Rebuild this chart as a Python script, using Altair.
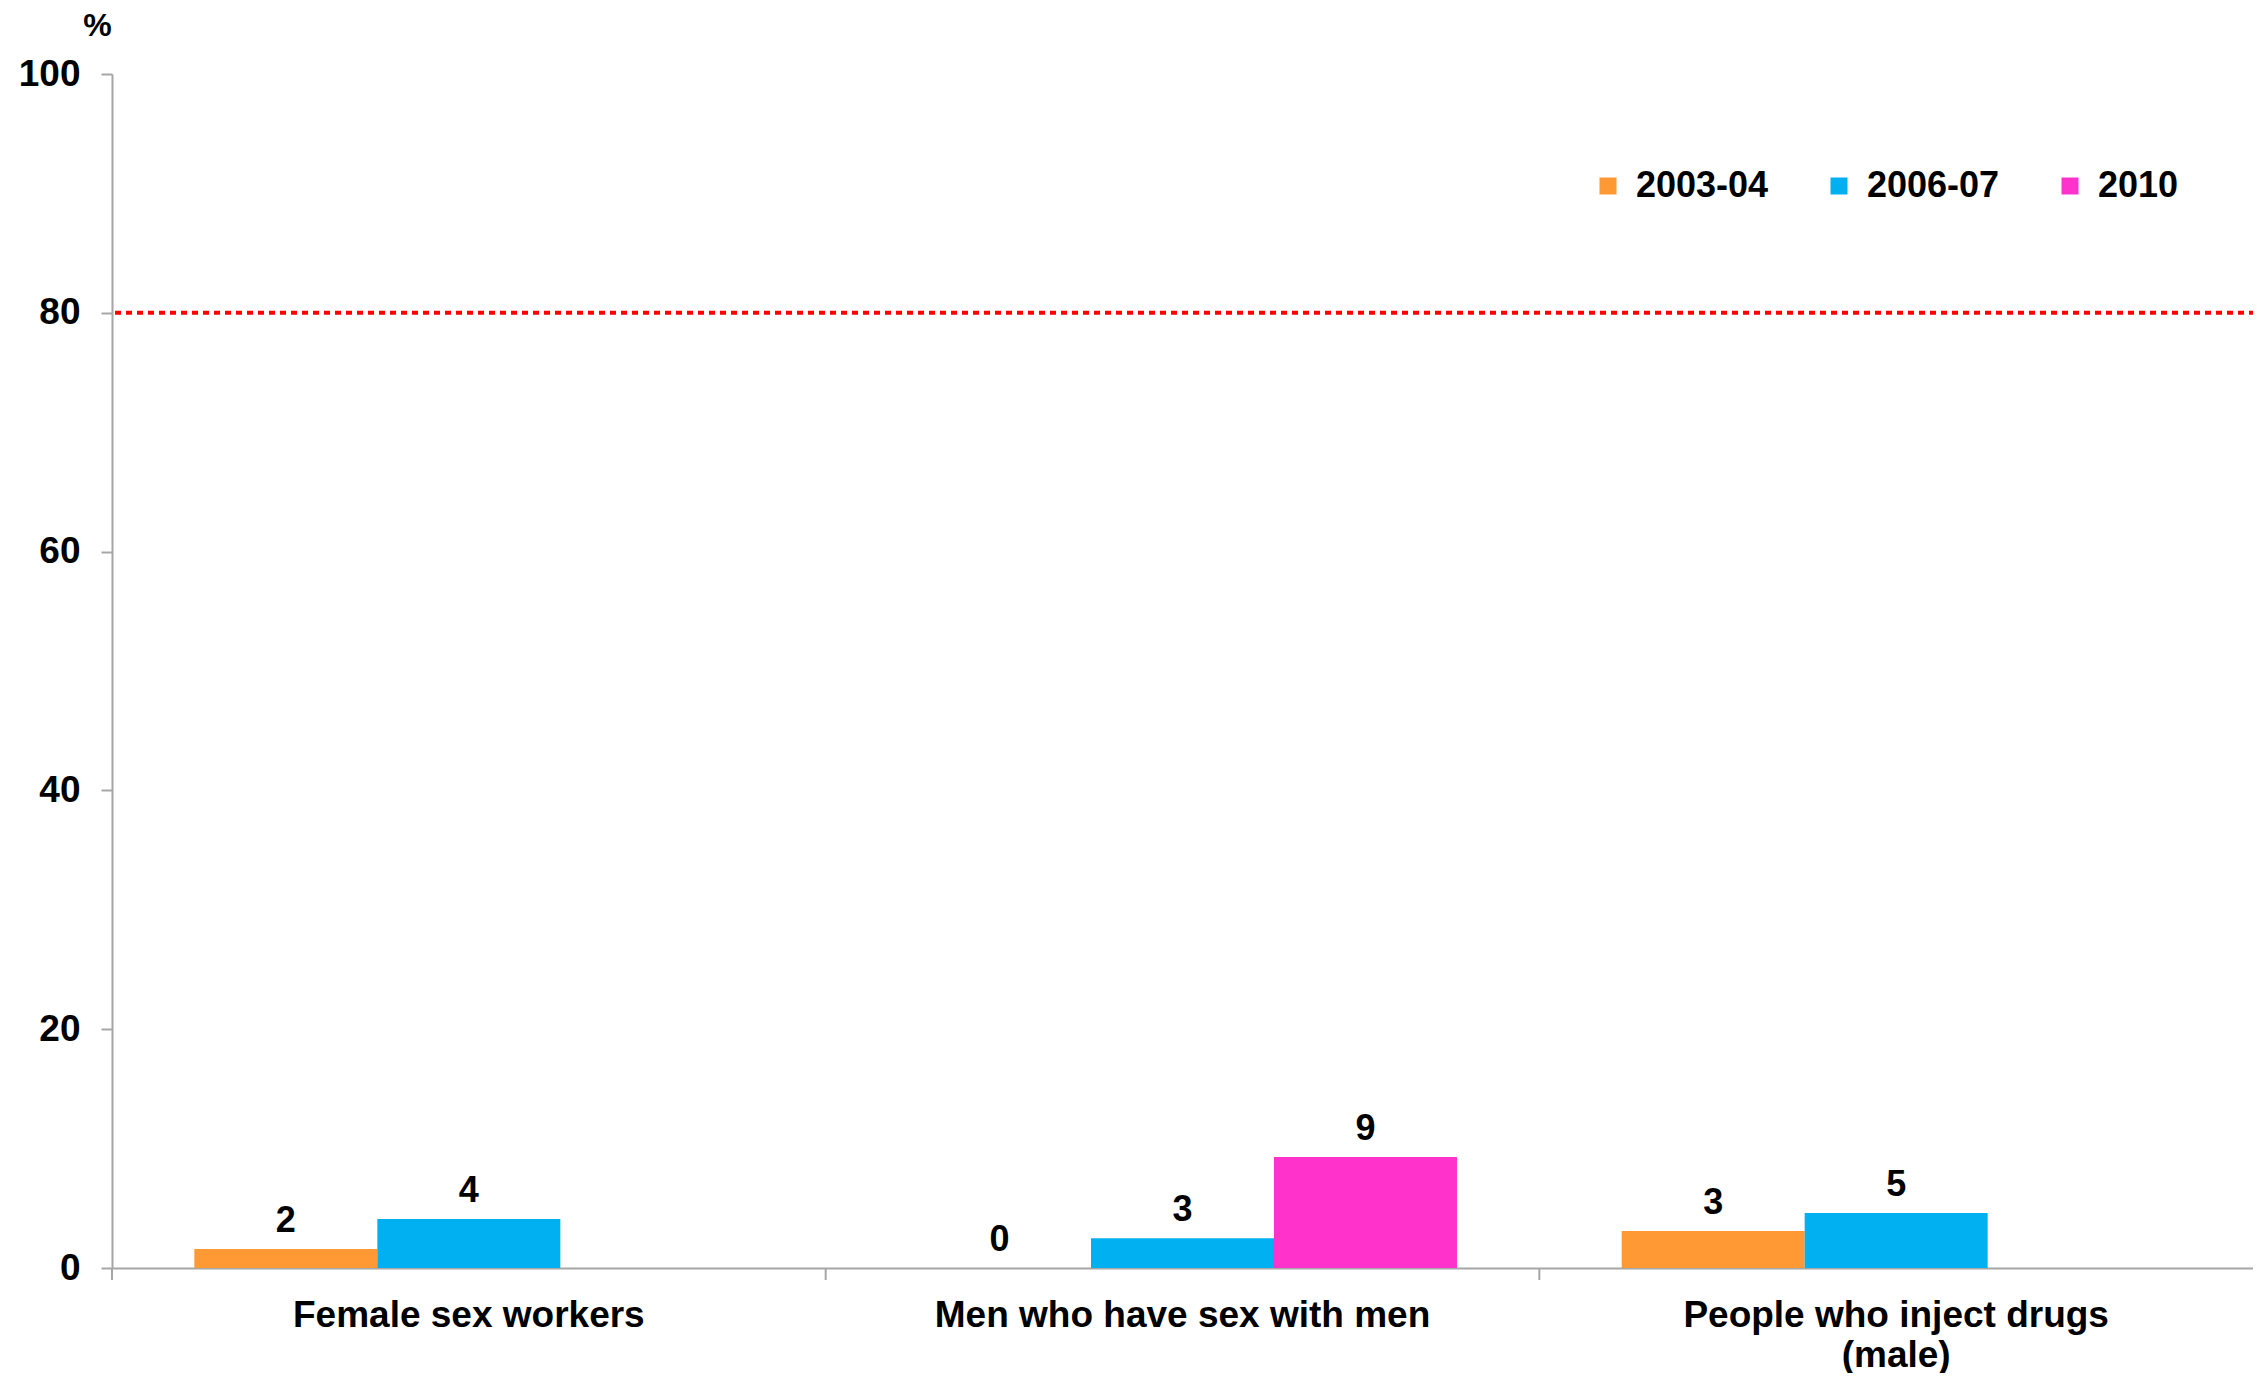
import altair as alt
import pandas as pd

categories = ["Female sex workers", "Men who have sex with men", "People who inject drugs (male)"]
series = ["2003-04", "2006-07", "2010"]
colors = ["#FF9933", "#00B0F0", "#FF33CC"]
values_2003 = [1.6, 0.0, 3.1]
values_2006 = [4.1, 2.5, 4.6]
values_2010 = [None, 9.3, None]
labels_2003 = ["2", "0", "3"]
labels_2006 = ["4", "3", "5"]
labels_2010 = [None, "9", None]
target = 80
y_ticks = [0, 20, 40, 60, 80, 100]

rows = []
for s, vals, labs in zip(series, [values_2003, values_2006, values_2010],
                         [labels_2003, labels_2006, labels_2010]):
    for c, v, l in zip(categories, vals, labs):
        if v is not None:
            rows.append({"cat": c, "series": s, "value": v, "label": l})
df = pd.DataFrame(rows)
cat_df = pd.DataFrame({"cat": categories})
target_df = pd.DataFrame({"t": [target]})

W, H = 2141, 1194
FONT = "Liberation Sans"

x_enc = alt.X("cat:N", sort=categories,
              scale=alt.Scale(paddingInner=0, paddingOuter=0),
              axis=alt.Axis(title=None, ticks=False, labelAngle=0, labelFontSize=37,
                            labelFontWeight="bold", labelPadding=29, labelColor="black",
                            labelLineHeight=40, labelLimit=0,
                            labelExpr="datum.label == 'People who inject drugs (male)' ? ['People who inject drugs', '(male)'] : datum.label"))
xo_enc = alt.XOffset("series:N", sort=series, scale=alt.Scale(paddingOuter=0.45, paddingInner=0))
y_enc = alt.Y("value:Q", scale=alt.Scale(domain=[0, 100], nice=False),
              axis=alt.Axis(values=y_ticks, grid=False, tickSize=11, tickWidth=2, tickColor="#A6A6A6",
                            labelFontSize=37, labelFontWeight="bold", labelPadding=21, labelColor="black",
                            title="%", titleAngle=0, titleX=-15, titleY=-49, titleFontSize=32,
                            titleFontWeight="bold", titleAlign="center", titleBaseline="middle",
                            titleColor="black"))

bars = alt.Chart(df).mark_bar().encode(
    x=x_enc, xOffset=xo_enc, y=y_enc,
    color=alt.Color("series:N", sort=series, scale=alt.Scale(domain=series, range=colors),
                    legend=alt.Legend(title=None, orient="none", direction="horizontal",
                                      legendX=1478, legendY=94, symbolType="square", symbolSize=289,
                                      symbolStrokeWidth=0, labelFontSize=36, labelFontWeight="bold",
                                      labelFont=FONT, labelOffset=10, columnPadding=52,
                                      labelColor="black"))
)

text = alt.Chart(df).mark_text(font=FONT, fontSize=36, fontWeight="bold", baseline="alphabetic",
                               dy=-17, color="black").encode(
    x=alt.X("cat:N", sort=categories), xOffset=alt.XOffset("series:N", sort=series),
    y="value:Q", text="label:N"
)

target_line = alt.Chart(target_df).mark_rule(color="#FF0000", strokeWidth=4, strokeDash=[6, 5]).encode(
    y="t:Q", x=alt.value(3), x2=alt.value(W)
)

seps = alt.Chart(cat_df).mark_rule(color="#A6A6A6", strokeWidth=2).encode(
    x=alt.X("cat:N", sort=categories, bandPosition=0), y=alt.value(H), y2=alt.value(H + 12)
)

chart = alt.layer(bars, text, target_line, seps).properties(
    width=W, height=H,
    padding={"left": 104, "top": 66, "right": 0, "bottom": 105},
    autosize=alt.AutoSizeParams(type="none")
).configure_view(stroke=None).configure_axis(
    domainColor="#A6A6A6", domainWidth=2, labelFont=FONT, titleFont=FONT
).configure_legend(labelFont=FONT)

chart.save("out.html", embed_options={"renderer": "svg", "actions": False})
